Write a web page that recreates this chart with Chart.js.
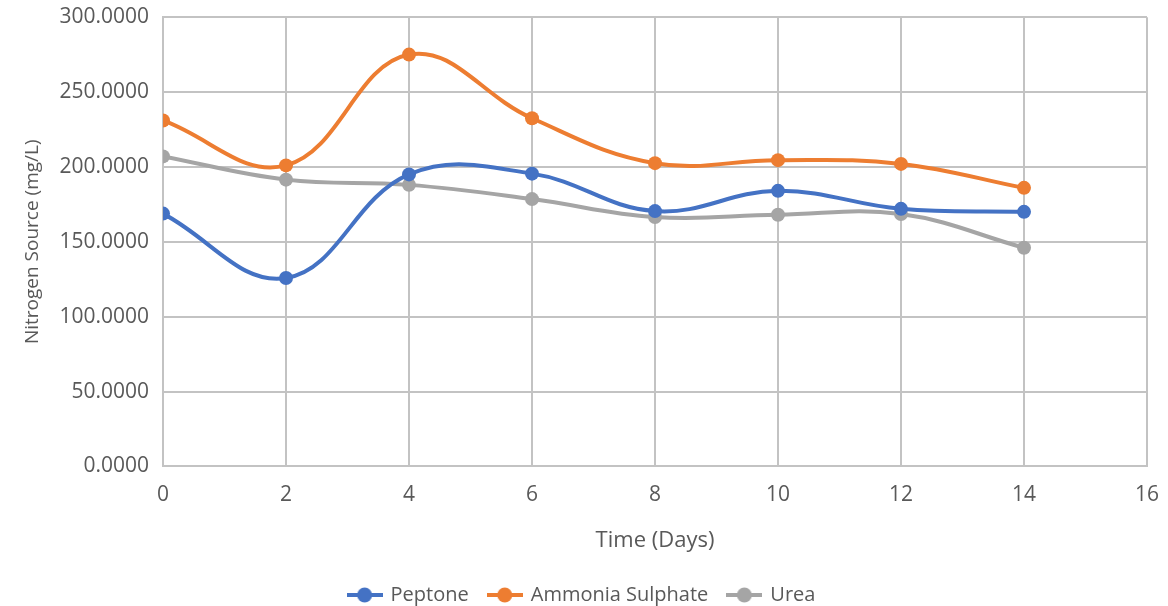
<!DOCTYPE html>
<html>
<head>
<meta charset="utf-8">
<script src="https://cdn.jsdelivr.net/npm/chart.js@4"></script>
<style>
  html, body { margin: 0; padding: 0; background: #fff; }
  #wrap { width: 1168px; height: 606px; }
</style>
</head>
<body>
<div id="wrap"><canvas id="chart"></canvas></div>
<script>
const days = [0, 2, 4, 6, 8, 10, 12, 14];
const peptone = [168.8, 125.8, 195.0, 195.5, 170.5, 184.0, 172.0, 170.0];
const ammoniaSulphate = [231.0, 201.0, 275.0, 232.5, 202.5, 204.5, 202.0, 186.0];
const urea = [207.0, 191.5, 188.0, 178.5, 166.5, 168.0, 168.5, 146.0];

const xTicks = [0, 2, 4, 6, 8, 10, 12, 14, 16];
const yTicks = [0, 50, 100, 150, 200, 250, 300];

const textColor = '#595959';
const gridColor = '#c3c3c3';
const font = "'Open Sans', sans-serif";
const fontSize = 21;

const toPoints = vals => days.map((d, i) => ({ x: d, y: vals[i] }));

// small line+marker swatch for the legend, like the spreadsheet one
function swatch(color) {
  const c = document.createElement('canvas');
  c.width = 36; c.height = 16;
  const ctx = c.getContext('2d');
  ctx.strokeStyle = color;
  ctx.lineWidth = 4;
  ctx.beginPath(); ctx.moveTo(0, 8); ctx.lineTo(36, 8); ctx.stroke();
  ctx.fillStyle = color;
  ctx.beginPath(); ctx.arc(18, 8, 7.5, 0, Math.PI * 2); ctx.fill();
  return c;
}

const series = [
  { label: 'Peptone', data: peptone, color: '#4472c4' },
  { label: 'Ammonia Sulphate', data: ammoniaSulphate, color: '#ed7d31' },
  { label: 'Urea', data: urea, color: '#a5a5a5' }
];

new Chart(document.getElementById('chart'), {
  type: 'line',
  data: {
    datasets: series.map(s => ({
      label: s.label,
      data: toPoints(s.data),
      borderColor: s.color,
      backgroundColor: s.color,
      borderWidth: 4,
      pointRadius: 7,
      pointHoverRadius: 7,
      pointBorderWidth: 0,
      tension: 0.4,
      fill: false
    }))
  },
  options: {
    responsive: true,
    maintainAspectRatio: false,
    animation: false,
    layout: { padding: { left: 17, right: 21, top: 0, bottom: -9 } },
    plugins: {
      tooltip: { enabled: false },
      legend: {
        position: 'bottom',
        labels: {
          color: textColor,
          font: { family: font, size: 20 },
          usePointStyle: true,
          pointStyleWidth: 32,
          padding: 20,
          generateLabels(chart) {
            const items = Chart.defaults.plugins.legend.labels.generateLabels(chart);
            items.forEach((it, i) => { it.pointStyle = swatch(series[i].color); });
            return items;
          }
        }
      }
    },
    scales: {
      x: {
        type: 'linear',
        min: 0,
        max: 16,
        afterBuildTicks: axis => { axis.ticks = xTicks.map(v => ({ value: v })); },
        grid: { color: gridColor, lineWidth: 2, drawTicks: false },
        border: { color: gridColor, width: 2 },
        ticks: { color: textColor, font: { family: font, size: fontSize }, padding: 16 },
        title: { display: true, text: 'Time (Days)', color: textColor, font: { family: font, size: 22 }, padding: { top: 4, bottom: 11 } },
        afterFit: axis => { axis.paddingRight = 0; axis.paddingLeft = 0; }
      },
      y: {
        min: 0,
        max: 300,
        afterBuildTicks: axis => { axis.ticks = yTicks.map(v => ({ value: v })); },
        grid: { color: gridColor, lineWidth: 2, drawTicks: false },
        border: { color: gridColor, width: 2 },
        ticks: { color: textColor, font: { family: font, size: fontSize, lineHeight: 0.3 }, padding: 14, callback: v => v.toFixed(4) },
        title: { display: true, text: 'Nitrogen Source (mg/L)', color: textColor, font: { family: font, size: 19 }, padding: { bottom: 4 } },
        afterFit: axis => { axis.width = 146; }
      }
    }
  }
});
</script>
</body>
</html>
